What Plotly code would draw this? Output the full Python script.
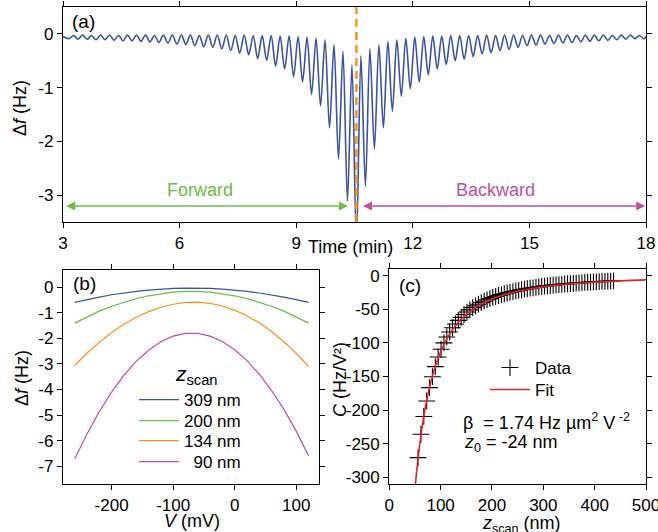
import plotly.graph_objects as go

W, H = 658, 532
FONT = "Liberation Sans, Arial, Helvetica, sans-serif"

# ---------------- Panel (a): frequency shift vs time ----------------
time_start = 3.0
time_end = 18.0
turn_time = 10.55          # forward/backward turning point (dashed line)
cycle_period = 0.231       # min per bias-sweep cycle
# depth of each cycle's dip (Hz), from left to right (centre dip is off-scale)
dip_values = [-0.09, -0.10, -0.10, -0.11, -0.11, -0.12, -0.13, -0.13, -0.14, -0.15,
              -0.16, -0.17, -0.19, -0.20, -0.22, -0.24, -0.25, -0.28, -0.31, -0.36,
              -0.39, -0.46, -0.49, -0.60, -0.65, -0.80, -0.89, -1.13, -1.34, -1.75,
              -2.33, -3.11,
              -3.90,
              -2.83, -2.14, -1.75, -1.44, -1.16, -1.02, -0.90, -0.76, -0.65, -0.57,
              -0.50, -0.47, -0.42, -0.37, -0.35, -0.31, -0.29, -0.25, -0.22, -0.21,
              -0.19, -0.18, -0.17, -0.16, -0.15, -0.14, -0.13, -0.12, -0.11, -0.10,
              -0.09, -0.09]
# top value of each cycle (start, between dips, end)
top_values = [-0.05,
              -0.03, -0.02, -0.03, -0.02, -0.02, -0.03, -0.02, -0.02, -0.02, -0.03,
              -0.02, -0.02, -0.02, -0.02, -0.03, -0.02, -0.02, -0.02, -0.03, -0.02,
              -0.03, -0.03, -0.03, -0.04,
              -0.04, -0.05, -0.06, -0.08, -0.11, -0.20, -0.33, -0.58,
              -0.41, -0.28, -0.20, -0.14, -0.11, -0.08, -0.06, -0.05,
              -0.04, -0.04, -0.03, -0.03, -0.03, -0.03, -0.02, -0.03, -0.02, -0.02,
              -0.03, -0.02, -0.02, -0.03, -0.02, -0.02, -0.03, -0.02, -0.02, -0.02,
              -0.03, -0.02, -0.02, -0.03,
              -0.05]
time_ticks = [3, 6, 9, 12, 15, 18]
a_yticks = [0, -1, -2, -3]

# ---------------- Panel (b): parabolas ----------------
bias_mV = [-260, -240, -220, -200, -180, -160, -140, -120, -100, -80,
           -60, -40, -20, 0, 20, 40, 60, 80, 100, 120]
df_309 = [-0.59, -0.48, -0.38, -0.29, -0.22, -0.16, -0.11, -0.07, -0.04, -0.03,
          -0.03, -0.04, -0.07, -0.11, -0.16, -0.22, -0.29, -0.38, -0.48, -0.59]
df_200 = [-1.40, -1.15, -0.93, -0.74, -0.58, -0.44, -0.33, -0.25, -0.19, -0.16,
          -0.16, -0.19, -0.25, -0.33, -0.44, -0.58, -0.74, -0.93, -1.15, -1.40]
df_134 = [-3.06, -2.58, -2.15, -1.77, -1.44, -1.17, -0.95, -0.78, -0.66, -0.59,
          -0.58, -0.63, -0.73, -0.89, -1.11, -1.39, -1.73, -2.13, -2.58, -3.10]
df_90 = [-6.72, -5.74, -4.86, -4.10, -3.44, -2.90, -2.46, -2.13, -1.91, -1.80,
         -1.80, -1.91, -2.12, -2.44, -2.87, -3.40, -4.04, -4.78, -5.63, -6.59]
b_labels = ["309 nm", "200 nm", "134 nm", "  90 nm"]
b_colors = ["#3853a4", "#6abd45", "#f7941d", "#c04ea0"]
b_xticks = [-200, -100, 0, 100]
b_yticks = [0, -1, -2, -3, -4, -5, -6, -7]

# ---------------- Panel (c): curvature vs z ----------------
z_data = [56.0, 61.6, 67.2, 72.8, 78.4, 84.0, 89.6, 95.2, 100.8, 106.4,
          112.0, 117.6, 123.2, 128.8, 134.4, 140.0, 145.6, 151.2, 156.8, 162.4,
          168.0, 173.6, 179.2, 184.8, 190.4, 196.0, 201.6, 207.2, 212.8, 218.4,
          224.0, 229.6, 235.2, 240.8, 246.4, 252.0, 257.6, 263.2, 268.8, 274.4,
          280.0, 285.6, 291.2, 296.8, 302.4, 308.0, 313.6, 319.2, 324.8, 330.4,
          336.0, 341.6, 347.2, 352.8, 358.4, 364.0, 369.6, 375.2, 380.8, 386.4,
          392.0, 397.6, 403.2, 408.8, 414.4, 420.0, 425.6, 431.2, 436.8]
c_data = [-270.8, -236.0, -209.5, -186.5, -166.6, -150.3, -135.4, -121.0, -109.5, -100.0,
          -91.2, -83.8, -77.5, -71.9, -66.5, -62.0, -57.8, -54.1, -50.9, -47.6,
          -44.9, -42.4, -40.1, -37.8, -35.9, -34.2, -32.4, -31.0, -29.5, -28.2,
          -26.9, -25.8, -24.7, -23.6, -22.7, -21.8, -20.9, -20.1, -19.4, -18.6,
          -18.0, -17.3, -16.7, -16.1, -15.6, -15.0, -14.6, -14.1, -13.6, -13.2,
          -12.8, -12.4, -12.0, -11.7, -11.3, -11.0, -10.7, -10.4, -10.1, -9.8,
          -9.6, -9.3, -9.1, -8.8, -8.6, -8.4, -8.2, -8.0, -7.8]
z_fit = [50, 52, 55, 58, 61, 65, 70, 75, 80, 90, 100, 110, 120, 135, 150,
         170, 190, 210, 240, 270, 300, 350, 400, 450, 500]
c_fit = [-317.7, -301.2, -278.8, -258.8, -240.8, -219.7, -196.9, -177.5, -160.9,
         -133.9, -113.2, -96.9, -83.9, -68.8, -57.5, -46.2, -38.0, -31.8, -25.0,
         -20.1, -16.6, -12.4, -9.7, -7.7, -6.3]
c_xticks = [0, 100, 200, 300, 400, 500]
c_yticks = [0, -50, -100, -150, -200, -250, -300]


def px(x):
    return x / W


def py(y):
    return 1 - y / H


def lab(v):
    return str(v).replace("−", "-")


# build the time trace of panel (a)
t_vals = [time_start]
f_vals = [top_values[0]]
n_half = (len(dip_values) - 1) // 2
for i, d in enumerate(dip_values):
    t_dip = turn_time + (i - n_half) * cycle_period
    t_vals.append(t_dip)
    f_vals.append(d)
    if i < len(dip_values) - 1:
        t_vals.append(t_dip + cycle_period / 2)
        f_vals.append(top_values[i + 1])
t_vals.append(time_end)
f_vals.append(top_values[-1])

fig = go.Figure()
fig.add_trace(go.Scatter(x=t_vals, y=f_vals, mode="lines", xaxis="x", yaxis="y",
                         line=dict(color="#3853a4", width=1.6, shape="spline",
                                   smoothing=0.9),
                         showlegend=False))

b_series = [df_309, df_200, df_134, df_90]
legend_names = ["legend", "legend2", "legend3", "legend4"]
for s, name, col, lg in zip(b_series, b_labels, b_colors, legend_names):
    fig.add_trace(go.Scatter(x=bias_mV, y=s, mode="lines", xaxis="x2", yaxis="y2",
                             name=name, legend=lg, line=dict(color=col, width=1.2)))

fig.add_trace(go.Scatter(x=z_data, y=c_data, mode="markers", xaxis="x3", yaxis="y3",
                         name="Data", legend="legend5",
                         marker=dict(symbol="cross-thin", size=12,
                                     line=dict(color="black", width=1.1), color="black")))
fig.add_trace(go.Scatter(x=z_fit, y=c_fit, mode="lines", xaxis="x3", yaxis="y3",
                         name="Fit", legend="legend6", line_shape="spline",
                         line=dict(color="#e8202a", width=1.6)))

axis_common = dict(showgrid=False, zeroline=False, showline=True, linecolor="black",
                   linewidth=1.3, mirror="ticks", ticks="outside", ticklen=5,
                   tickwidth=1.2, tickcolor="black", automargin=False,
                   ticklabeloverflow="allow",
                   tickfont=dict(family=FONT, size=17, color="black"))

layout = dict(
    width=W, height=H, margin=dict(l=0, r=0, t=0, b=0, pad=0),
    paper_bgcolor="white", plot_bgcolor="white",
    font=dict(family=FONT, size=17, color="black"),
    xaxis=dict(domain=[px(63), px(646)], range=[time_start, time_end], anchor="y",
               tickvals=time_ticks, ticktext=[lab(v) for v in time_ticks], **axis_common),
    yaxis=dict(domain=[py(222), py(7)], range=[-3.5, 0.5], anchor="x",
               tickvals=a_yticks, ticktext=[lab(v) for v in a_yticks], **axis_common),
    xaxis2=dict(domain=[px(63), px(319)], range=[-279, 137], anchor="y2",
                tickvals=b_xticks, ticktext=[lab(v) for v in b_xticks], **axis_common),
    yaxis2=dict(domain=[py(484), py(270)], range=[-7.7, 0.68], anchor="x2",
                tickvals=b_yticks, ticktext=[lab(v) for v in b_yticks], **axis_common),
    xaxis3=dict(domain=[px(389.3), px(646)], range=[0, 500], anchor="y3",
                tickvals=c_xticks, ticktext=[lab(v) for v in c_xticks], **axis_common),
    yaxis3=dict(domain=[py(484), py(269.3)], range=[-310, 9.5], anchor="x3",
                tickvals=c_yticks, ticktext=[lab(v) for v in c_yticks], **axis_common),
)

leg_common = dict(xanchor="left", yanchor="middle", bgcolor="rgba(0,0,0,0)",
                  font=dict(family=FONT, size=17, color="black"), itemwidth=40,
                  borderwidth=0)
b_leg_y = [400, 421, 441, 462]
for lg, yy in zip(legend_names, b_leg_y):
    layout[lg] = dict(x=px(134), y=py(yy), **leg_common)
layout["legend5"] = dict(x=px(485), y=py(368), **leg_common)
layout["legend6"] = dict(x=px(485), y=py(390), **leg_common)

fig.update_layout(**layout)

# turning-point dashed line
fig.add_shape(type="line", xref="x", yref="y domain", x0=turn_time, x1=turn_time,
              y0=0, y1=1, line=dict(color="#f7941d", width=2.5, dash="8px,5px"))

ann = []
green, magenta = "#6abd45", "#be50a0"
# direction arrows
ann.append(dict(xref="x", yref="y", axref="x", ayref="y", x=3.08, y=-3.2, ax=10.37, ay=-3.2,
                showarrow=True, arrowside="end+start", arrowhead=2, arrowsize=1.2,
                arrowwidth=1.5, arrowcolor=green, text="", standoff=0, startstandoff=0))
ann.append(dict(xref="x", yref="y", axref="x", ayref="y", x=17.98, y=-3.2, ax=10.68, ay=-3.2,
                showarrow=True, arrowside="end+start", arrowhead=2, arrowsize=1.2,
                arrowwidth=1.5, arrowcolor=magenta, text="", standoff=0, startstandoff=0))
ann.append(dict(xref="x", yref="y", x=6.53, y=-2.91, text="Forward", showarrow=False,
                font=dict(family=FONT, size=18, color=green)))
ann.append(dict(xref="x", yref="y", x=14.13, y=-2.91, text="Backward", showarrow=False,
                font=dict(family=FONT, size=18, color=magenta)))

def pann(x, y, text, size=18, angle=0, xanchor="center", yanchor="middle"):
    ann.append(dict(xref="paper", yref="paper", x=px(x), y=py(y), text=text,
                    showarrow=False, textangle=angle, xanchor=xanchor, yanchor=yanchor,
                    font=dict(family=FONT, size=size, color="black")))

# panel labels
pann(70, 21, "(a)", size=19, xanchor="left")
pann(71, 283, "(b)", size=19, xanchor="left")
pann(397, 285, "(c)", size=19, xanchor="left")
# axis titles
pann(20, 108, "Δ<i>f</i> (Hz)", angle=-90)
pann(350, 247, "Time (min)")
pann(22, 378, "Δ<i>f</i> (Hz)", angle=-90)
pann(192, 521, "<i>V</i> (mV)")
pann(340, 380, "<i>C</i> (Hz/V²)", angle=-90)
pann(521, 524, "<i>z</i><sub>scan</sub> (nm)")
# legend title of (b)
pann(196, 375, "<i>z</i><sub>scan</sub>", size=21)
# fit parameters
pann(461, 421, "β  = 1.74 Hz µm<sup>2</sup> V<sup> -2</sup>", size=18, xanchor="left")
pann(462, 443, "<i>z</i><sub>0</sub> = -24 nm", size=18, xanchor="left")

fig.update_layout(annotations=ann)
fig.write_html("out.html", config={"displayModeBar": False},
               post_script="document.body.style.margin='0';"
                           "document.body.style.overflow='hidden';")
